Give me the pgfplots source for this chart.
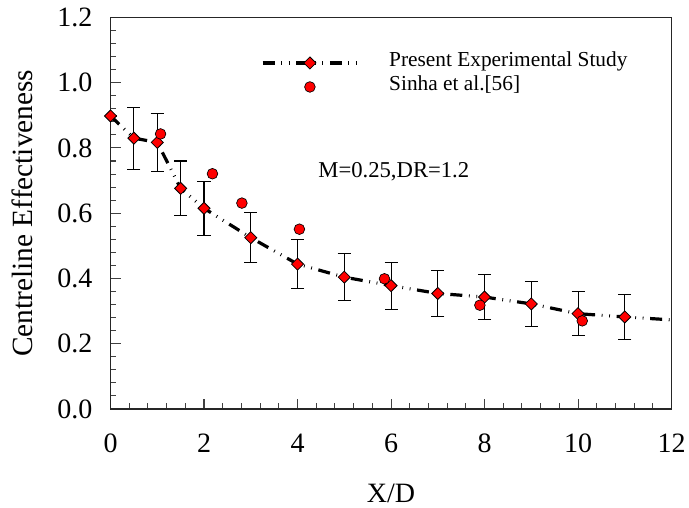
\documentclass[border=0pt]{standalone}
\usepackage{fontspec}
\setmainfont{Liberation Serif}
\usepackage{pgfplots}
\pgfplotsset{compat=1.18}
\usepackage{pgfplotstable}

\pgfplotstableread{
x y e
0 0.898 0
0.5 0.830 0.095
1.0 0.817 0.090
1.5 0.676 0.084
2.0 0.615 0.082
3.0 0.525 0.077
4.0 0.444 0.075
5.0 0.404 0.073
6.0 0.378 0.072
7.0 0.354 0.071
8.0 0.343 0.070
9.0 0.322 0.069
10.0 0.292 0.068
11.0 0.282 0.068
}\present

\pgfplotstableread{
x y
0 0.898
0.5 0.830
1.0 0.817
1.5 0.676
2.0 0.615
3.0 0.525
4.0 0.444
5.0 0.404
6.0 0.378
7.0 0.354
8.0 0.343
9.0 0.322
10.0 0.292
11.0 0.282
12.0 0.273
}\curve

\pgfplotstableread{
x y
1.07 0.843
2.18 0.721
2.81 0.631
4.04 0.551
5.86 0.399
7.90 0.318
10.09 0.270
}\sinha

\tikzset{
  curvestyle/.style={black, line width=2.4pt, dash pattern=on 9pt off 5pt on 0.6pt off 5pt on 0.6pt off 5pt},
  diamondmark/.style={mark=square*, mark size=3.2pt, mark options={solid, rotate=45, fill=red, draw=black, line width=0.6pt}},
  circlemark/.style={mark=*, mark size=4pt, mark options={solid, fill=red, draw=black, line width=0.5pt}},
}
\pgfplotsset{
  leglineimg/.style={legend image code/.code={\draw[mark repeat=2, mark phase=2, ##1] plot coordinates {(0pt,0pt) (35.5pt,0pt) (71pt,0pt)}; \path[draw=none, fill=none] (0pt,0pt) -- (95pt,0pt);}},
  legmarkimg/.style={legend image code/.code={\draw[##1] plot coordinates {(35.5pt,0pt)}; \path[draw=none, fill=none] (0pt,0pt) -- (95pt,0pt);}},
}

\begin{document}
\begin{tikzpicture}
\begin{axis}[
  scale only axis,
  width=420.75pt, height=293.6pt,
  xmin=0, xmax=12, ymin=0, ymax=1.2,
  xtick={0,2,...,12},
  ytick={0,0.2,...,1.2},
  minor x tick num=4,
  minor y tick num=4,
  tick pos=left,
  tick align=inside,
  major tick length=7.5pt,
  minor tick length=4.2pt,
  every tick/.style={black!75, line width=0.8pt},
  axis line style={black!85, line width=1pt},
  /pgf/number format/assume math mode=true,
  tick label style={font=\fontsize{21}{25}\selectfont, inner sep=0pt},
  yticklabel style={/pgf/number format/fixed, /pgf/number format/fixed zerofill, /pgf/number format/precision=1, xshift=-13.5pt},
  xticklabel style={yshift=-18.4pt},
  xlabel={X/D},
  ylabel={Centreline Effectiveness},
  xlabel style={font=\fontsize{21}{25}\selectfont, at={(axis description cs:0.5,-0.191)}, anchor=north, inner sep=0pt},
  ylabel style={font=\fontsize{22}{26}\selectfont, at={(axis description cs:-0.1376,0.5)}, anchor=south, inner sep=0pt},
  legend style={at={(axis description cs:0.2677,0.9015)}, anchor=north west, draw=none, fill=none,
    inner sep=0pt, font=\fontsize{16}{19}\selectfont,
    nodes={inner sep=0pt, text height=0.75em, text depth=0.25em}, row sep=8pt},
  legend cell align=left,
]
\addplot[curvestyle, forget plot] table[x=x, y=y] {\curve};
\addplot[only marks, diamondmark, black, forget plot,
  error bars/.cd, y dir=both, y explicit,
  error bar style={black, line width=0.8pt, solid},
  error mark options={black, line width=0.8pt, mark size=4.9pt, rotate=90}]
  table[x=x, y=y, y error=e] {\present};
\addplot[only marks, circlemark, forget plot] table[x=x, y=y] {\sinha};

\addlegendimage{curvestyle, diamondmark, leglineimg}
\addlegendentry{Present Experimental Study}
\addlegendimage{circlemark, legmarkimg}
\addlegendentry{Sinha et al.[56]}

\node[anchor=base west, inner sep=0pt, font=\fontsize{17}{20}\selectfont] at (axis cs:4.44,0.709) {M=0.25,DR=1.2};
\end{axis}
\pgfresetboundingbox
\useasboundingbox ([xshift=-82.9pt,yshift=-74.25pt]current axis.south west) rectangle ([xshift=13.1pt,yshift=13.1pt]current axis.north east);
\end{tikzpicture}
\end{document}
